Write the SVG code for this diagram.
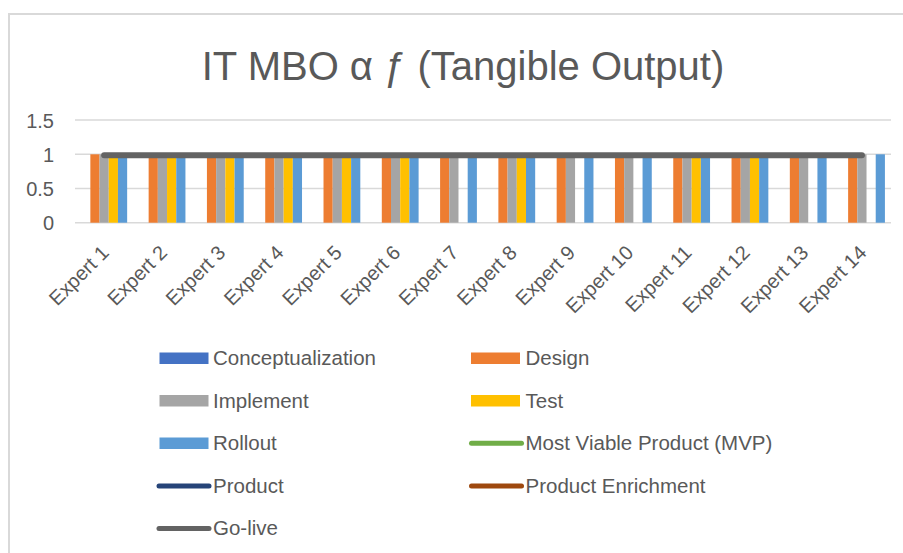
<svg xmlns="http://www.w3.org/2000/svg" width="903" height="553" viewBox="0 0 903 553">
<style>
text{font-family:"Liberation Sans",Arial,sans-serif;fill:#595959}
.title{font-size:40px}
.ytick{font-size:20px;text-anchor:end}
.xtick{font-size:20px;text-anchor:end}
.leg{font-size:20.5px}
.grid{stroke:#d9d9d9;stroke-width:1.5}
.c{fill:#4472C4}.d{fill:#ED7D31}.i{fill:#A5A5A5}.t{fill:#FFC000}.r{fill:#5B9BD5}
</style>
<rect x="0" y="0" width="903" height="553" fill="#ffffff"/>
<rect x="9" y="14" width="905" height="560" fill="#ffffff" stroke="#d9d9d9" stroke-width="2"/>
<text class="title" x="463" y="80" text-anchor="middle">IT MBO α ƒ (Tangible Output)</text>
<g id="gridlines">
<line class="grid" x1="75" y1="120.1" x2="891" y2="120.1"/>
<line class="grid" x1="75" y1="154.3" x2="891" y2="154.3"/>
<line class="grid" x1="75" y1="188.5" x2="891" y2="188.5"/>
<line class="grid" x1="75" y1="222.7" x2="891" y2="222.7"/>
</g>
<g id="yaxis">
<text class="ytick" x="54" y="127.5">1.5</text>
<text class="ytick" x="54" y="161.7">1</text>
<text class="ytick" x="54" y="195.9">0.5</text>
<text class="ytick" x="54" y="230.1">0</text>
</g>
<g id="bars">
<g id="expert1"><rect class="d" x="90.35" y="154.3" width="9.2" height="68.4"/><rect class="i" x="99.55" y="154.3" width="9.2" height="68.4"/><rect class="t" x="108.75" y="154.3" width="9.2" height="68.4"/><rect class="r" x="117.95" y="154.3" width="9.2" height="68.4"/></g>
<g id="expert2"><rect class="d" x="148.64" y="154.3" width="9.2" height="68.4"/><rect class="i" x="157.84" y="154.3" width="9.2" height="68.4"/><rect class="t" x="167.04" y="154.3" width="9.2" height="68.4"/><rect class="r" x="176.24" y="154.3" width="9.2" height="68.4"/></g>
<g id="expert3"><rect class="d" x="206.93" y="154.3" width="9.2" height="68.4"/><rect class="i" x="216.13" y="154.3" width="9.2" height="68.4"/><rect class="t" x="225.33" y="154.3" width="9.2" height="68.4"/><rect class="r" x="234.53" y="154.3" width="9.2" height="68.4"/></g>
<g id="expert4"><rect class="d" x="265.22" y="154.3" width="9.2" height="68.4"/><rect class="i" x="274.42" y="154.3" width="9.2" height="68.4"/><rect class="t" x="283.62" y="154.3" width="9.2" height="68.4"/><rect class="r" x="292.82" y="154.3" width="9.2" height="68.4"/></g>
<g id="expert5"><rect class="d" x="323.51" y="154.3" width="9.2" height="68.4"/><rect class="i" x="332.71" y="154.3" width="9.2" height="68.4"/><rect class="t" x="341.91" y="154.3" width="9.2" height="68.4"/><rect class="r" x="351.11" y="154.3" width="9.2" height="68.4"/></g>
<g id="expert6"><rect class="d" x="381.8" y="154.3" width="9.2" height="68.4"/><rect class="i" x="391" y="154.3" width="9.2" height="68.4"/><rect class="t" x="400.2" y="154.3" width="9.2" height="68.4"/><rect class="r" x="409.4" y="154.3" width="9.2" height="68.4"/></g>
<g id="expert7"><rect class="d" x="440.09" y="154.3" width="9.2" height="68.4"/><rect class="i" x="449.29" y="154.3" width="9.2" height="68.4"/><rect class="r" x="467.69" y="154.3" width="9.2" height="68.4"/></g>
<g id="expert8"><rect class="d" x="498.38" y="154.3" width="9.2" height="68.4"/><rect class="i" x="507.58" y="154.3" width="9.2" height="68.4"/><rect class="t" x="516.78" y="154.3" width="9.2" height="68.4"/><rect class="r" x="525.98" y="154.3" width="9.2" height="68.4"/></g>
<g id="expert9"><rect class="d" x="556.67" y="154.3" width="9.2" height="68.4"/><rect class="i" x="565.87" y="154.3" width="9.2" height="68.4"/><rect class="r" x="584.27" y="154.3" width="9.2" height="68.4"/></g>
<g id="expert10"><rect class="d" x="614.96" y="154.3" width="9.2" height="68.4"/><rect class="i" x="624.16" y="154.3" width="9.2" height="68.4"/><rect class="r" x="642.56" y="154.3" width="9.2" height="68.4"/></g>
<g id="expert11"><rect class="d" x="673.25" y="154.3" width="9.2" height="68.4"/><rect class="i" x="682.45" y="154.3" width="9.2" height="68.4"/><rect class="t" x="691.65" y="154.3" width="9.2" height="68.4"/><rect class="r" x="700.85" y="154.3" width="9.2" height="68.4"/></g>
<g id="expert12"><rect class="d" x="731.54" y="154.3" width="9.2" height="68.4"/><rect class="i" x="740.74" y="154.3" width="9.2" height="68.4"/><rect class="t" x="749.94" y="154.3" width="9.2" height="68.4"/><rect class="r" x="759.14" y="154.3" width="9.2" height="68.4"/></g>
<g id="expert13"><rect class="d" x="789.83" y="154.3" width="9.2" height="68.4"/><rect class="i" x="799.03" y="154.3" width="9.2" height="68.4"/><rect class="r" x="817.43" y="154.3" width="9.2" height="68.4"/></g>
<g id="expert14"><rect class="d" x="848.12" y="154.3" width="9.2" height="68.4"/><rect class="i" x="857.32" y="154.3" width="9.2" height="68.4"/><rect class="r" x="875.72" y="154.3" width="9.2" height="68.4"/></g>
</g>
<g id="connectors">
<line id="golive-line" x1="104.15" y1="155.3" x2="861.92" y2="155.3" stroke="#636363" stroke-width="6" stroke-linecap="round"/>
</g>
<g id="xaxis">
<text class="xtick" transform="translate(110,254) rotate(-45)">Expert 1</text>
<text class="xtick" transform="translate(168.3,254) rotate(-45)">Expert 2</text>
<text class="xtick" transform="translate(226.6,254) rotate(-45)">Expert 3</text>
<text class="xtick" transform="translate(284.9,254) rotate(-45)">Expert 4</text>
<text class="xtick" transform="translate(343.2,254) rotate(-45)">Expert 5</text>
<text class="xtick" transform="translate(401.5,254) rotate(-45)">Expert 6</text>
<text class="xtick" transform="translate(459.7,254) rotate(-45)">Expert 7</text>
<text class="xtick" transform="translate(518,254) rotate(-45)">Expert 8</text>
<text class="xtick" transform="translate(576.3,254) rotate(-45)">Expert 9</text>
<text class="xtick" transform="translate(634.6,254) rotate(-45)">Expert 10</text>
<text class="xtick" transform="translate(692.9,254) rotate(-45)">Expert 11</text>
<text class="xtick" transform="translate(751.2,254) rotate(-45)">Expert 12</text>
<text class="xtick" transform="translate(809.5,254) rotate(-45)">Expert 13</text>
<text class="xtick" transform="translate(867.8,254) rotate(-45)">Expert 14</text>
</g>
<g id="legend">
<g id="leg-conceptualization"><rect class="c" x="159.5" y="352.5" width="49" height="11.5"/><text class="leg" x="213" y="365">Conceptualization</text></g>
<g id="leg-design"><rect class="d" x="471" y="352.5" width="49" height="11.5"/><text class="leg" x="525.5" y="365">Design</text></g>
<g id="leg-implement"><rect class="i" x="159.5" y="395" width="49" height="11.5"/><text class="leg" x="213" y="407.5">Implement</text></g>
<g id="leg-test"><rect class="t" x="471" y="395" width="49" height="11.5"/><text class="leg" x="525.5" y="407.5">Test</text></g>
<g id="leg-rollout"><rect class="r" x="159.5" y="437.5" width="49" height="11.5"/><text class="leg" x="213" y="450">Rollout</text></g>
<g id="leg-mvp"><line x1="471.5" y1="443.3" x2="521.5" y2="443.3" stroke="#70AD47" stroke-width="5" stroke-linecap="round"/><text class="leg" x="525.5" y="450">Most Viable Product (MVP)</text></g>
<g id="leg-product"><line x1="159" y1="486" x2="209" y2="486" stroke="#264478" stroke-width="5" stroke-linecap="round"/><text class="leg" x="213" y="492.7">Product</text></g>
<g id="leg-enrichment"><line x1="471.5" y1="486" x2="521.5" y2="486" stroke="#9E480E" stroke-width="5" stroke-linecap="round"/><text class="leg" x="525.5" y="492.7">Product Enrichment</text></g>
<g id="leg-golive"><line x1="159" y1="528.6" x2="209" y2="528.6" stroke="#636363" stroke-width="5" stroke-linecap="round"/><text class="leg" x="213" y="535.3">Go-live</text></g>
</g>
</svg>
